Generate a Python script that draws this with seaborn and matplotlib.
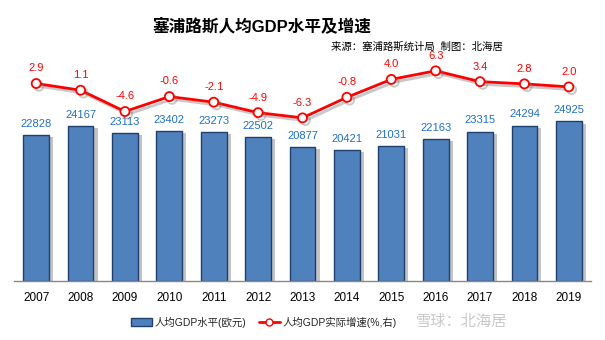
import numpy as np
import pandas as pd
import matplotlib
matplotlib.use("Agg")
import matplotlib.pyplot as plt
import matplotlib.patheffects as pe
from matplotlib.lines import Line2D
from matplotlib.patches import Patch
import seaborn as sns

years = ["2007", "2008", "2009", "2010", "2011", "2012", "2013", "2014", "2015", "2016", "2017", "2018", "2019"]
gdp_pc = [22828, 24167, 23113, 23402, 23273, 22502, 20877, 20421, 21031, 22163, 23315, 24294, 24925]
growth = [2.9, 1.1, -4.6, -0.6, -2.1, -4.9, -6.3, -0.8, 4.0, 6.3, 3.4, 2.8, 2.0]

title = "塞浦路斯人均GDP水平及增速"
source = "来源：塞浦路斯统计局  制图：北海居"
bar_label = "人均GDP水平(欧元)"
line_label = "人均GDP实际增速(%,右)"
watermark = "雪球：北海居"

sns.set_theme(style="white")
plt.rcParams["font.family"] = ["Liberation Sans", "Noto Sans CJK SC", "DejaVu Sans"]

df = pd.DataFrame({"year": years, "gdp": gdp_pc, "growth": growth, "idx": np.arange(len(years))})

fig = plt.figure(figsize=(6.05, 3.4), dpi=100)
ax = fig.add_axes([14/605, 59/340, 577/605, 224/340])

bar_color = "#4F81BD"
sns.barplot(data=df, x="year", y="gdp", color=bar_color, width=0.58, ax=ax,
            edgecolor="#1F3F6E", linewidth=1.0, saturation=1)
for p in ax.patches:
    p.set_path_effects([pe.SimplePatchShadow(offset=(3, -1.5), shadow_rgbFace="#888888", alpha=0.5), pe.Normal()])
for i, v in enumerate(gdp_pc):
    ax.text(i, v + 1000, str(v), ha="center", va="bottom", fontsize=8, color="#1F6FC5")

ax.set_ylim(0, 35000)
ax.set_xlim(-0.5, len(years) - 0.5)
ax.set_yticks([])
ax.set_xlabel("")
ax.set_ylabel("")
for s in ["top", "right", "left"]:
    ax.spines[s].set_visible(False)
ax.spines["bottom"].set_color("#888888")
ax.spines["bottom"].set_linewidth(1.0)
ax.tick_params(axis="x", length=0, pad=8, labelsize=8.5, labelcolor="black")
ax.set_xticks(np.arange(len(years)))
ax.set_xticklabels(years)
ax.set_xticks(np.arange(len(years) + 1) - 0.5, minor=True)
ax.tick_params(axis="x", which="minor", length=5, color="#888888", width=1, direction="out")

ax2 = ax.twinx()
sns.lineplot(data=df, x="idx", y="growth", ax=ax2, color="#FF0000", linewidth=2.0,
             marker="o", markersize=6.5, markerfacecolor="white", markeredgecolor="#FF0000",
             markeredgewidth=1.3,
             path_effects=[pe.SimpleLineShadow(offset=(2, -2), shadow_color="#777777", alpha=0.4), pe.Normal()])
for i, v in enumerate(growth):
    ax2.text(i, v + 2.7, f"{v:.1f}", ha="center", va="bottom", fontsize=8, color="#FF0000")
ax2.set_ylim(-50, 10)
ax2.set_yticks([])
ax2.set_xlabel("")
ax2.set_ylabel("")
for s in ["top", "right", "left", "bottom"]:
    ax2.spines[s].set_visible(False)
ax2.set_xlim(-0.5, len(years) - 0.5)

fig.text(262/605, 1 - 27/340, title, ha="center", va="center", fontsize=12, fontweight="bold", color="black")
fig.text(503/605, 1 - 47/340, source, ha="right", va="center", fontsize=7.5, style="italic", color="black")

handles = [Patch(facecolor=bar_color, edgecolor="#1F3F6E", linewidth=1.0),
           Line2D([0], [0], color="#FF0000", linewidth=2, marker="o", markersize=5,
                  markerfacecolor="white", markeredgecolor="#FF0000")]
fig.legend(handles, [bar_label, line_label], loc="center", bbox_to_anchor=(264/605, 1 - 322/340),
           ncol=2, frameon=False, fontsize=7.5, handlelength=2.0, columnspacing=1.2, handletextpad=0.3)

fig.text(507/605, 1 - 322/340, watermark, ha="right", va="center", fontsize=11, color="#C8C8C8")

fig.savefig("out.png", dpi=100)
